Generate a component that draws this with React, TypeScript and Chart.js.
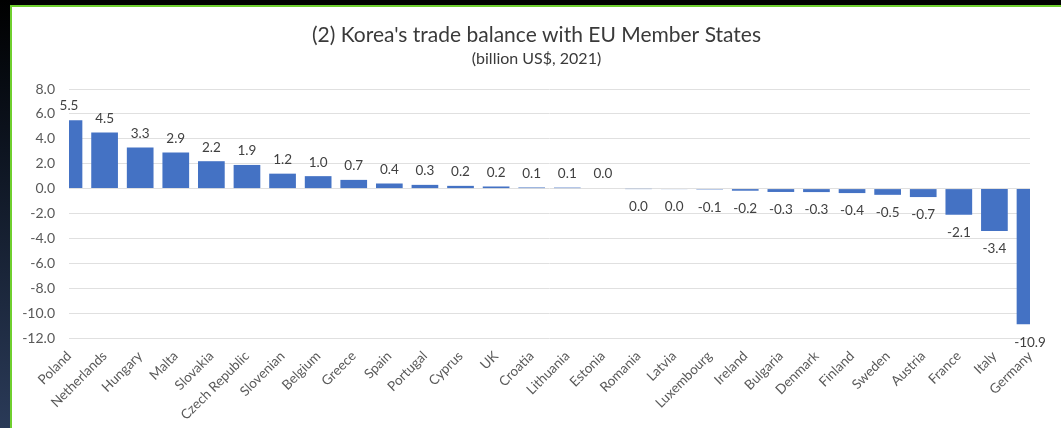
import React, { useEffect, useRef } from "react";
import { Chart, registerables } from "chart.js";

Chart.register(...registerables);

const countries = [
  "Poland", "Netherlands", "Hungary", "Malta", "Slovakia", "Czech Republic", "Slovenian",
  "Belgium", "Greece", "Spain", "Portugal", "Cyprus", "UK", "Croatia", "Lithuania", "Estonia",
  "Romania", "Latvia", "Luxembourg", "Ireland", "Bulgaria", "Denmark", "Finland", "Sweden",
  "Austria", "France", "Italy", "Germany",
];

const balance = [
  5.5, 4.5, 3.3, 2.9, 2.2, 1.9, 1.2,
  1.0, 0.7, 0.41, 0.3, 0.22, 0.17, 0.09, 0.08, 0.04,
  -0.02, -0.03, -0.07, -0.17, -0.27, -0.28, -0.36, -0.5,
  -0.68, -2.1, -3.4, -10.9,
];

const titleText = "(2) Korea's trade balance with EU Member States";
const subtitleText = "(billion US$, 2021)";
const yMin = -12;
const yMax = 8;
const yStep = 2;

const FONT = "Lato, 'Open Sans', sans-serif";
const BAR_COLOR = "#4472C4";
const TEXT_COLOR = "#595959";

const fmt = (v: number) => (Math.abs(v) < 0.05 ? "0.0" : v.toFixed(1));

const valueLabels = {
  id: "valueLabels",
  afterDatasetsDraw(chart: any) {
    const ctx = chart.ctx;
    const meta = chart.getDatasetMeta(0);
    const data = chart.data.datasets[0].data as number[];
    ctx.save();
    ctx.font = `13.5px ${FONT}`;
    ctx.fillStyle = "#404040";
    ctx.textAlign = "center";
    ctx.textBaseline = "middle";
    meta.data.forEach((bar: any, i: number) => {
      const v = data[i];
      const y = v >= 0 ? bar.y - 14 : bar.y + 18;
      ctx.fillText(fmt(v), bar.x, y);
    });
    ctx.restore();
  },
};

export default function App() {
  const ref = useRef<HTMLCanvasElement | null>(null);

  useEffect(() => {
    if (!ref.current) return;
    const chart = new Chart(ref.current, {
      type: "bar",
      data: {
        labels: countries,
        datasets: [
          {
            data: balance,
            backgroundColor: BAR_COLOR,
            borderWidth: 0,
            categoryPercentage: 1,
            barPercentage: 0.75,
          },
        ],
      },
      options: {
        animation: false,
        responsive: false,
        maintainAspectRatio: false,
        layout: { padding: { top: 0, left: 0, right: 0, bottom: 0 } },
        plugins: {
          legend: { display: false },
          tooltip: { enabled: false },
          title: {
            display: true,
            text: titleText,
            color: "#3a3a3a",
            font: { family: FONT, size: 21, weight: "normal" },
            padding: { top: 14.4, bottom: 1 },
          },
          subtitle: {
            display: true,
            text: subtitleText,
            color: "#3a3a3a",
            font: { family: FONT, size: 16, weight: "normal" },
            padding: { top: 1, bottom: 20.2 },
          },
        },
        scales: {
          x: {
            offset: false,
            grid: { display: false, offset: false, drawTicks: false },
            border: { display: false },
            ticks: {
              color: TEXT_COLOR,
              font: { family: FONT, size: 13.5 },
              maxRotation: 45,
              minRotation: 45,
              autoSkip: false,
              padding: 10,
            },
            afterFit: (scale: any) => {
              scale.height = 90;
            },
          },
          y: {
            min: yMin,
            max: yMax,
            grid: { color: "#e0e0e0", lineWidth: 1, drawTicks: false },
            border: { display: false },
            ticks: {
              stepSize: yStep,
              color: TEXT_COLOR,
              font: { family: FONT, size: 14 },
              padding: 14,
              callback: (v: any) => Number(v).toFixed(1),
            },
            afterFit: (scale: any) => {
              scale.width = 57;
            },
          },
          yRight: {
            type: "linear",
            position: "right",
            grid: { display: false, drawTicks: false },
            border: { display: false },
            ticks: { display: false },
            afterFit: (scale: any) => {
              scale.width = 31;
            },
          },
        },
      },
      plugins: [valueLabels],
    });
    return () => chart.destroy();
  }, []);

  return (
    <div
      style={{
        position: "fixed",
        left: 0,
        top: 0,
        width: 1061,
        height: 428,
        background: "#ffffff",
        overflow: "hidden",
      }}
    >
      <div style={{ position: "absolute", left: 0, top: 0, width: 1061, height: 5, background: "#000" }} />
      <div
        style={{
          position: "absolute",
          left: 0,
          top: 0,
          width: 10,
          height: 428,
          background: "linear-gradient(#000000 0%, #0d1420 35%, #2a3a58 100%)",
        }}
      />
      <div style={{ position: "absolute", left: 10, top: 5, width: 1051, height: 2, background: "#6fcf2f" }} />
      <div style={{ position: "absolute", left: 10, top: 5, width: 2, height: 423, background: "#6fcf2f" }} />
      <canvas
        ref={ref}
        width={1049}
        height={420}
        style={{ position: "absolute", left: 12, top: 8, width: 1049, height: 420 }}
      />
    </div>
  );
}
